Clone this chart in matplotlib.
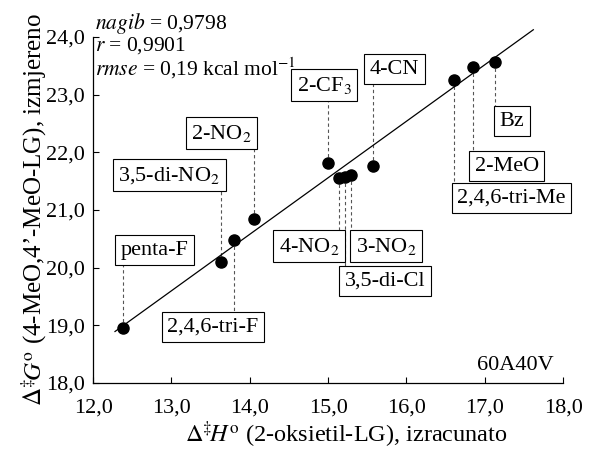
import numpy as np
import matplotlib
matplotlib.use('Agg')
import matplotlib.pyplot as plt

plt.rcParams['font.family'] = ['Liberation Serif', 'DejaVu Serif']
plt.rcParams['mathtext.fontset'] = 'stix'

# podaci
labels = ['penta-F', '3,5-di-NO$_2$', '2,4,6-tri-F', '2-NO$_2$', '2-CF$_3$',
          '4-NO$_2$', '3,5-di-Cl', '3-NO$_2$', '4-CN', '2,4,6-tri-Me', '2-MeO', 'Bz']
dH = [12.38, 13.63, 13.80, 14.06, 15.00, 15.14, 15.22, 15.29, 15.57, 16.61, 16.85, 17.13]
dG = [18.96, 20.10, 20.48, 20.85, 21.82, 21.55, 21.57, 21.60, 21.77, 23.25, 23.48, 23.57]

slope = 0.9798
intercept = 6.86
fit_x = [12.28, 17.62]

xticks = [12.0, 13.0, 14.0, 15.0, 16.0, 17.0, 18.0]
yticks = [18.0, 19.0, 20.0, 21.0, 22.0, 23.0, 24.0]

# polozaj oznaka (sredina okvira)
box_pos = [(12.79, 20.30), (12.97, 21.60), (13.53, 18.97), (13.64, 22.33), (14.95, 23.16),
           (14.76, 20.37), (15.73, 19.77), (15.74, 20.37), (15.85, 23.44), (17.34, 21.21),
           (17.28, 21.76), (17.35, 22.54)]

fig = plt.figure(figsize=(5.89, 4.5), dpi=100)
ax = fig.add_axes([0.158, 0.149, 0.798, 0.769])

fx = np.array(fit_x)
ax.plot(fx, slope * fx + intercept, color='black', lw=0.9, zorder=2, clip_on=False)

for i in range(len(labels)):
    bx, by = box_pos[i]
    ax.plot([dH[i], dH[i]], [dG[i], by], color='#555555', lw=0.8,
            linestyle=(0, (3, 2.5)), zorder=1)
    ax.text(bx, by, labels[i], fontsize=16, ha='center', va='center', zorder=4,
            bbox=dict(boxstyle='square,pad=0.25', fc='white', ec='black', lw=0.8))

ax.plot(dH, dG, 'o', color='black', ms=8, zorder=5, clip_on=False)

ax.set_xlim(12, 18)
ax.set_ylim(18, 24)
ax.set_xticks(xticks)
ax.set_yticks(yticks)
ax.set_xticklabels([f'{t:.1f}'.replace('.', ',') for t in xticks])
ax.set_yticklabels([f'{t:.1f}'.replace('.', ',') for t in yticks])
ax.tick_params(direction='in', length=4, width=0.8, labelsize=16)
ax.tick_params(axis='x', pad=11)
ax.tick_params(axis='y', pad=6)
ax.spines['top'].set_visible(False)
ax.spines['right'].set_visible(False)
for s in ['left', 'bottom']:
    ax.spines[s].set_linewidth(0.9)

ax.set_xlabel(r'$\Delta^{\ddagger}\!H^{\mathrm{o}}$ (2-oksietil-LG), izracunato', fontsize=17.5, labelpad=0)
ax.xaxis.set_label_coords(0.538, -0.105)
ax.set_ylabel(r'$\Delta^{\ddagger}\!G^{\mathrm{o}}$ (4-MeO,4’-MeO-LG), izmjereno', fontsize=18, labelpad=-2)

ax.text(0.005, 1.038, r'$nagib$ = 0,9798', transform=ax.transAxes, fontsize=15.5, va='center')
ax.text(0.005, 0.974, r'$r$ = 0,9901', transform=ax.transAxes, fontsize=15.5, va='center')
ax.text(0.005, 0.91, r'$rmse$ = 0,19 kcal mol$^{\mathrm{-1}}$', transform=ax.transAxes, fontsize=15.5, va='center')
ax.text(0.98, 0.05, '60A40V', transform=ax.transAxes, fontsize=16, ha='right', va='center')

fig.savefig('out.png', dpi=100)
